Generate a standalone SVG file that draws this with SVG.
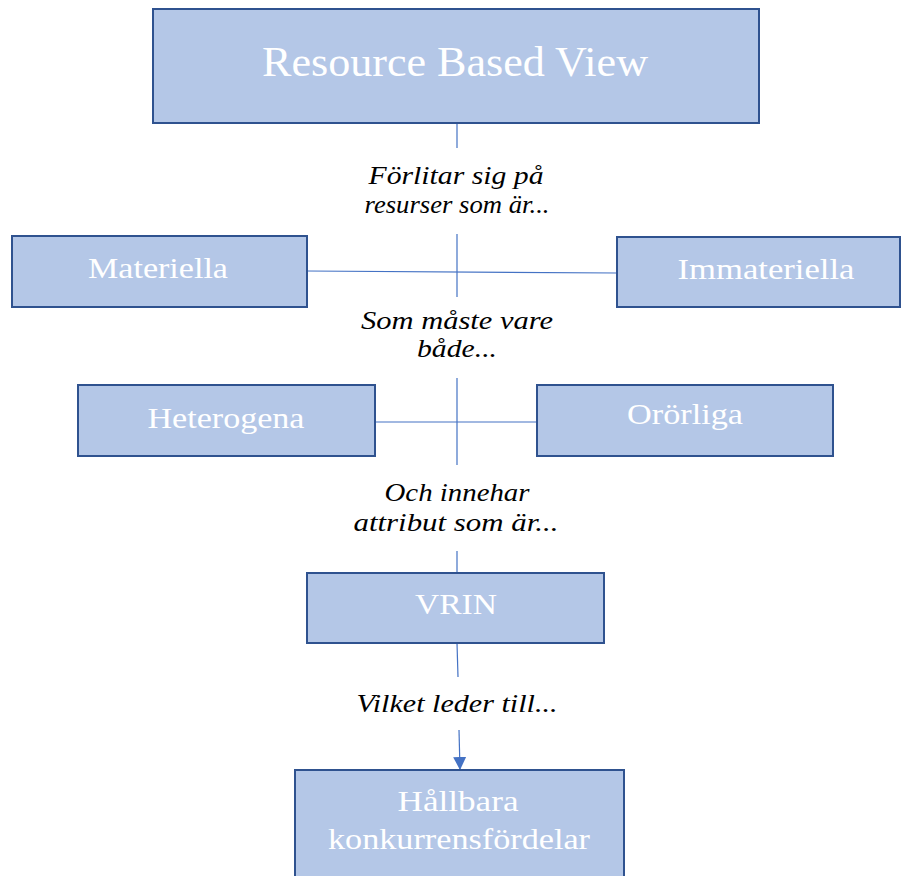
<svg xmlns="http://www.w3.org/2000/svg" width="902" height="876" viewBox="0 0 902 876">
  <style>
    .box { fill: #B4C7E7; stroke: #2F528F; stroke-width: 2; }
    .ntext { font-family: "Liberation Serif", "DejaVu Serif", serif; font-size: 30px; fill: #FFFFFF; text-anchor: middle; }
    .title { font-size: 43px; }
    .lbl { font-family: "Liberation Serif", "DejaVu Serif", serif; font-style: italic; font-size: 25px; fill: #000000; text-anchor: middle; }
    .conn { stroke: #4472C4; stroke-width: 1.2; fill: none; }
  </style>
  <defs>
    <marker id="arrow" viewBox="0 0 10 10" refX="10" refY="5" markerWidth="13" markerHeight="13" markerUnits="userSpaceOnUse" orient="auto">
      <path d="M0,0 L10,5 L0,10 Z" fill="#4472C4"/>
    </marker>
  </defs>

  <rect width="902" height="876" fill="#FFFFFF"/>

  <!-- connectors -->
  <g id="connectors">
    <line class="conn" x1="457" y1="123" x2="457" y2="148"/>
    <line class="conn" x1="457" y1="234" x2="457" y2="297"/>
    <line class="conn" x1="307" y1="271" x2="617" y2="273"/>
    <line class="conn" x1="457" y1="378" x2="457" y2="465"/>
    <line class="conn" x1="375" y1="422" x2="537" y2="422"/>
    <line class="conn" x1="457" y1="551" x2="457" y2="572"/>
    <line class="conn" x1="457" y1="643" x2="458" y2="677"/>
    <line class="conn" x1="459" y1="730" x2="460" y2="770" marker-end="url(#arrow)"/>
  </g>

  <!-- connector labels -->
  <g id="labels">
    <text class="lbl" x="456" y="184" textLength="175" lengthAdjust="spacingAndGlyphs">Förlitar sig på</text>
    <text class="lbl" x="457" y="213" textLength="185" lengthAdjust="spacingAndGlyphs">resurser som är...</text>
    <text class="lbl" x="457" y="329" textLength="192" lengthAdjust="spacingAndGlyphs">Som måste vare</text>
    <text class="lbl" x="457" y="357" textLength="80" lengthAdjust="spacingAndGlyphs">både...</text>
    <text class="lbl" x="457" y="501" textLength="145" lengthAdjust="spacingAndGlyphs">Och innehar</text>
    <text class="lbl" x="456" y="531" textLength="205" lengthAdjust="spacingAndGlyphs">attribut som är...</text>
    <text class="lbl" x="457" y="712" textLength="201" lengthAdjust="spacingAndGlyphs">Vilket leder till...</text>
  </g>

  <g id="node-rbv">
    <rect class="box" x="153" y="9" width="606" height="114"/>
    <text class="ntext title" x="455" y="76" textLength="386" lengthAdjust="spacingAndGlyphs">Resource Based View</text>
  </g>

  <g id="node-materiella">
    <rect class="box" x="12" y="236" width="295" height="71"/>
    <text class="ntext" x="158" y="278" textLength="140" lengthAdjust="spacingAndGlyphs">Materiella</text>
  </g>

  <g id="node-immateriella">
    <rect class="box" x="617" y="237" width="283" height="70"/>
    <text class="ntext" x="766" y="279" textLength="177" lengthAdjust="spacingAndGlyphs">Immateriella</text>
  </g>

  <g id="node-heterogena">
    <rect class="box" x="78" y="385" width="297" height="71"/>
    <text class="ntext" x="226" y="428" textLength="157" lengthAdjust="spacingAndGlyphs">Heterogena</text>
  </g>

  <g id="node-ororliga">
    <rect class="box" x="537" y="385" width="296" height="71"/>
    <text class="ntext" x="685" y="424" textLength="116" lengthAdjust="spacingAndGlyphs">Orörliga</text>
  </g>

  <g id="node-vrin">
    <rect class="box" x="307" y="573" width="297" height="70"/>
    <text class="ntext" x="456" y="614" textLength="82" lengthAdjust="spacingAndGlyphs">VRIN</text>
  </g>

  <g id="node-hallbara">
    <rect class="box" x="295" y="770" width="329" height="110"/>
    <text class="ntext" x="458" y="811" textLength="121" lengthAdjust="spacingAndGlyphs">Hållbara</text>
    <text class="ntext" x="459" y="849" textLength="262" lengthAdjust="spacingAndGlyphs">konkurrensfördelar</text>
  </g>
</svg>
